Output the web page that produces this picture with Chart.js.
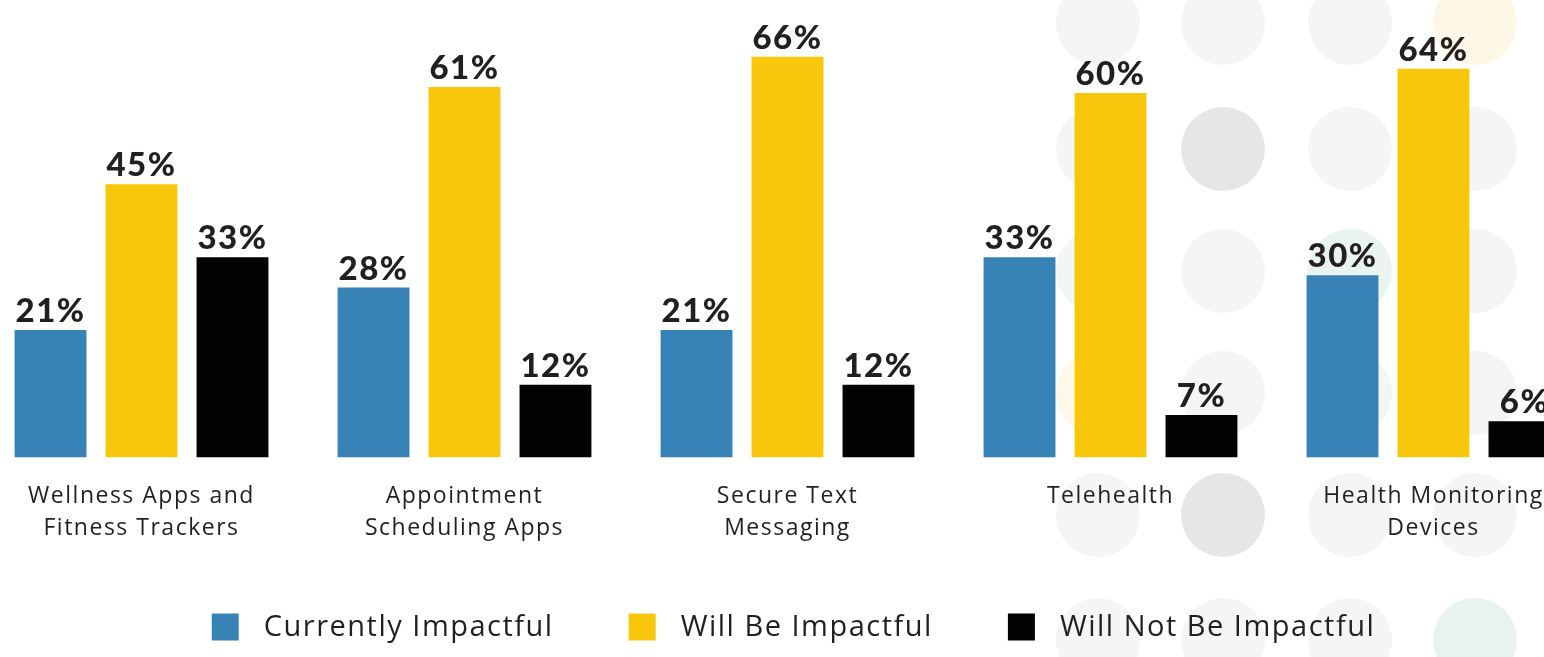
<!DOCTYPE html>
<html>
<head>
<meta charset="utf-8">
<script src="https://cdn.jsdelivr.net/npm/chart.js@4.4.0/dist/chart.umd.min.js"></script>
<style>
  html, body { margin: 0; padding: 0; background: #fff; overflow: hidden; }
  body { width: 1544px; height: 657px; position: relative; }
  .dot { position: absolute; width: 84px; height: 84px; border-radius: 50%; background: #f3f6f4; }
  #wrap { position: absolute; left: -20px; top: 0; width: 1615px; height: 657px; }
</style>
</head>
<body>
<div id="dots"></div>
<div id="wrap"><canvas id="chart"></canvas></div>
<script>
const categories = [
  ['Wellness Apps and', 'Fitness Trackers'],
  ['Appointment', 'Scheduling Apps'],
  ['Secure Text', 'Messaging'],
  ['Telehealth'],
  ['Health Monitoring', 'Devices']
];
const seriesNames = ['Currently Impactful', 'Will Be Impactful', 'Will Not Be Impactful'];
const currentlyImpactful = [21, 28, 21, 33, 30];
const willBeImpactful = [45, 61, 66, 60, 64];
const willNotBeImpactful = [33, 12, 12, 7, 6];
const colors = ['#3783b5', '#f8c60a', '#030305'];

// decorative dot grid in the background (right side)
const dotCols = [1098, 1223, 1350, 1475];
const dotRows = [23, 149, 271, 393, 515, 640];
const dotTint = { '1223,149': '#e6e6e6', '1223,515': '#e6e6e6', '1475,23': '#fdf7e6', '1098,393': '#fdf8ea', '1350,271': '#e9f4f1', '1475,640': '#e8f3f0' };
const dotsEl = document.getElementById('dots');
dotRows.forEach(y => dotCols.forEach(x => {
  const d = document.createElement('div');
  d.className = 'dot';
  d.style.left = (x - 42) + 'px';
  d.style.top = (y - 42) + 'px';
  if (dotTint[x + ',' + y]) d.style.background = dotTint[x + ',' + y];
  dotsEl.appendChild(d);
}));

// the original font is letter-spaced, canvas can do that too
const spacing = {
  id: 'spacing',
  beforeUpdate(chart) { chart.ctx.letterSpacing = '1.5px'; },
  beforeDraw(chart) { chart.ctx.letterSpacing = '1.5px'; }
};

const valueLabels = {
  id: 'valueLabels',
  afterDatasetsDraw(chart) {
    const c = chart.ctx;
    c.save();
    c.font = '900 33px Lato';
    c.fillStyle = '#231f20';
    c.textAlign = 'center';
    c.textBaseline = 'alphabetic';
    chart.data.datasets.forEach((ds, i) => {
      chart.getDatasetMeta(i).data.forEach((bar, j) => {
        c.fillText(ds.data[j] + '%', bar.x, bar.y - 8);
      });
    });
    c.restore();
  }
};

// legend drawn by hand so the box/text gaps match the original
const bottomLegend = {
  id: 'bottomLegend',
  afterDraw(chart) {
    const c = chart.ctx;
    const box = 27, gap = 25, itemGap = 75, y = 627;
    c.save();
    c.letterSpacing = '1.5px';
    c.font = '29px "Open Sans"';
    c.textBaseline = 'middle';
    c.textAlign = 'left';
    const items = chart.data.datasets.map(ds => ({ text: ds.label, color: ds.backgroundColor, w: c.measureText(ds.label).width }));
    const total = items.reduce((s, it) => s + box + gap + it.w, 0) + itemGap * (items.length - 1);
    let x = chart.width / 2 + 6 - total / 2;
    items.forEach(it => {
      c.fillStyle = it.color;
      c.fillRect(x, y - box / 2, box, box);
      c.fillStyle = '#231f20';
      c.fillText(it.text, x + box + gap, y + 1);
      x += box + gap + it.w + itemGap;
    });
    c.restore();
  }
};

new Chart(document.getElementById('chart'), {
  type: 'bar',
  data: {
    labels: categories,
    datasets: [
      { label: seriesNames[0], data: currentlyImpactful, backgroundColor: colors[0] },
      { label: seriesNames[1], data: willBeImpactful, backgroundColor: colors[1] },
      { label: seriesNames[2], data: willNotBeImpactful, backgroundColor: colors[2] }
    ]
  },
  options: {
    responsive: true,
    maintainAspectRatio: false,
    animation: false,
    categoryPercentage: 0.845,
    barPercentage: 0.79,
    layout: { padding: { top: 2, bottom: 97, left: 0, right: 0 } },
    scales: {
      x: {
        grid: { display: false },
        border: { display: false },
        ticks: {
          color: '#231f20',
          font: { family: 'Open Sans', size: 23, lineHeight: 1.4 },
          padding: 15,
          maxRotation: 0,
          autoSkip: false
        }
      },
      y: { display: false, min: 0, max: 75 }
    },
    plugins: {
      legend: { display: false },
      tooltip: { enabled: false }
    }
  },
  plugins: [spacing, valueLabels, bottomLegend]
});
</script>
</body>
</html>
